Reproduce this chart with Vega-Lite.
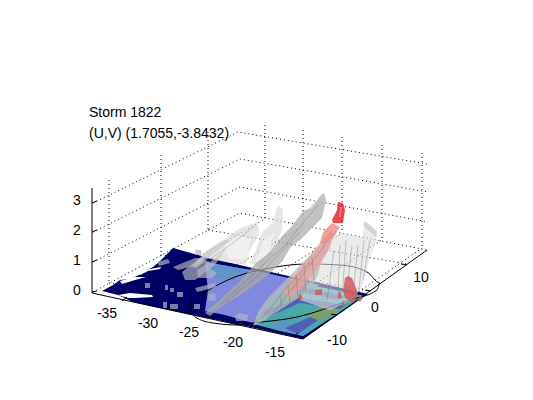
{"$schema":"https://vega.github.io/schema/vega-lite/v6.json","width":533,"height":400,"padding":0,"autosize":{"type":"none"},"background":"white","view":{"stroke":null},
"resolve":{"scale":{"fill":"independent","opacity":"independent"}},
"datasets":{
"dotted":[
{"p":"z0a","i":0,"x":93,"y":292},{"p":"z0a","i":1,"x":240,"y":213},{"p":"z0a","i":2,"x":427,"y":250},
{"p":"z1a","i":0,"x":93,"y":262},{"p":"z1a","i":1,"x":240,"y":187},{"p":"z1a","i":2,"x":428,"y":222},
{"p":"z2a","i":0,"x":93,"y":232},{"p":"z2a","i":1,"x":240,"y":159},{"p":"z2a","i":2,"x":428,"y":192},
{"p":"z3a","i":0,"x":93,"y":203},{"p":"z3a","i":1,"x":238,"y":132},{"p":"z3a","i":2,"x":427,"y":164},
{"p":"v1","i":0,"x":109,"y":180},{"p":"v1","i":1,"x":109,"y":283},
{"p":"v2","i":0,"x":161,"y":155},{"p":"v2","i":1,"x":161,"y":255},
{"p":"v3","i":0,"x":208,"y":132},{"p":"v3","i":1,"x":208,"y":230},
{"p":"v4","i":0,"x":265,"y":125},{"p":"v4","i":1,"x":265,"y":219},
{"p":"v5","i":0,"x":303,"y":130},{"p":"v5","i":1,"x":303,"y":226},
{"p":"v6","i":0,"x":342,"y":137},{"p":"v6","i":1,"x":342,"y":233},
{"p":"v7","i":0,"x":382,"y":145},{"p":"v7","i":1,"x":382,"y":240},
{"p":"v8","i":0,"x":422,"y":153},{"p":"v8","i":1,"x":422,"y":248},
{"p":"f1","i":0,"x":123,"y":300},{"p":"f1","i":1,"x":265,"y":219},
{"p":"f2","i":0,"x":165,"y":308},{"p":"f2","i":1,"x":303,"y":226},
{"p":"f3","i":0,"x":207,"y":318},{"p":"f3","i":1,"x":342,"y":233},
{"p":"f4","i":0,"x":250,"y":327},{"p":"f4","i":1,"x":382,"y":240},
{"p":"f5","i":0,"x":293,"y":337},{"p":"f5","i":1,"x":422,"y":248},
{"p":"g1","i":0,"x":109,"y":283},{"p":"g1","i":1,"x":337,"y":315},
{"p":"g2","i":0,"x":161,"y":255},{"p":"g2","i":1,"x":370,"y":291},
{"p":"g3","i":0,"x":208,"y":230},{"p":"g3","i":1,"x":407,"y":264}
],
"surface":[
{"p":"n","k":"navy","i":0,"x":102,"y":291},{"p":"n","k":"navy","i":1,"x":113,"y":285},{"p":"n","k":"navy","i":2,"x":120,"y":280},{"p":"n","k":"navy","i":3,"x":130,"y":279},{"p":"n","k":"navy","i":4,"x":137,"y":276},{"p":"n","k":"navy","i":5,"x":147,"y":270},{"p":"n","k":"navy","i":6,"x":153,"y":267},{"p":"n","k":"navy","i":7,"x":160,"y":261},{"p":"n","k":"navy","i":8,"x":173,"y":248},{"p":"n","k":"navy","i":9,"x":205,"y":257},{"p":"n","k":"navy","i":10,"x":262,"y":270},{"p":"n","k":"navy","i":11,"x":368,"y":294},{"p":"n","k":"navy","i":12,"x":303,"y":339},{"p":"n","k":"navy","i":13,"x":255,"y":328},{"p":"n","k":"navy","i":14,"x":193,"y":315},{"p":"n","k":"navy","i":15,"x":133,"y":302},{"p":"n","k":"navy","i":16,"x":118,"y":295},
{"p":"w1","k":"white","i":0,"x":118,"y":295},{"p":"w1","k":"white","i":1,"x":130,"y":293},{"p":"w1","k":"white","i":2,"x":152,"y":295},{"p":"w1","k":"white","i":3,"x":153,"y":297},{"p":"w1","k":"white","i":4,"x":135,"y":298},{"p":"w1","k":"white","i":5,"x":128,"y":298},
{"p":"w2","k":"white","i":0,"x":137,"y":272},{"p":"w2","k":"white","i":1,"x":150,"y":269},{"p":"w2","k":"white","i":2,"x":161,"y":267},{"p":"w2","k":"white","i":3,"x":160,"y":269},{"p":"w2","k":"white","i":4,"x":148,"y":271},{"p":"w2","k":"white","i":5,"x":140,"y":275},
{"p":"w3","k":"white","i":0,"x":120,"y":281},{"p":"w3","k":"white","i":1,"x":135,"y":277},{"p":"w3","k":"white","i":2,"x":146,"y":277},{"p":"w3","k":"white","i":3,"x":135,"y":280},{"p":"w3","k":"white","i":4,"x":122,"y":284},
{"p":"b","k":"blue","i":0,"x":205,"y":262},{"p":"b","k":"blue","i":1,"x":262,"y":272},{"p":"b","k":"blue","i":2,"x":320,"y":285},{"p":"b","k":"blue","i":3,"x":300,"y":292},{"p":"b","k":"blue","i":4,"x":270,"y":310},{"p":"b","k":"blue","i":5,"x":253,"y":323},{"p":"b","k":"blue","i":6,"x":225,"y":315},{"p":"b","k":"blue","i":7,"x":205,"y":311},{"p":"b","k":"blue","i":8,"x":208,"y":290},
{"p":"tb","k":"tealblue","i":0,"x":205,"y":262},{"p":"tb","k":"tealblue","i":1,"x":250,"y":270},{"p":"tb","k":"tealblue","i":2,"x":232,"y":280},{"p":"tb","k":"tealblue","i":3,"x":207,"y":278},
{"p":"t","k":"teal","i":0,"x":253,"y":324},{"p":"t","k":"teal","i":1,"x":270,"y":305},{"p":"t","k":"teal","i":2,"x":290,"y":280},{"p":"t","k":"teal","i":3,"x":320,"y":287},{"p":"t","k":"teal","i":4,"x":365,"y":296},{"p":"t","k":"teal","i":5,"x":303,"y":336},{"p":"t","k":"teal","i":6,"x":280,"y":331},
{"p":"gs","k":"green","i":0,"x":305,"y":315},{"p":"gs","k":"green","i":1,"x":325,"y":305},{"p":"gs","k":"green","i":2,"x":340,"y":310},{"p":"gs","k":"green","i":3,"x":320,"y":322},
{"p":"s1","k":"stripe","i":0,"x":262,"y":312},{"p":"s1","k":"stripe","i":1,"x":300,"y":298},{"p":"s1","k":"stripe","i":2,"x":345,"y":305},{"p":"s1","k":"stripe","i":3,"x":340,"y":309},{"p":"s1","k":"stripe","i":4,"x":300,"y":303},{"p":"s1","k":"stripe","i":5,"x":268,"y":317},
{"p":"s2","k":"stripe","i":0,"x":295,"y":285},{"p":"s2","k":"stripe","i":1,"x":345,"y":296},{"p":"s2","k":"stripe","i":2,"x":340,"y":300},{"p":"s2","k":"stripe","i":3,"x":290,"y":290},
{"p":"s3","k":"tealblue","i":0,"x":303,"y":336},{"p":"s3","k":"tealblue","i":1,"x":312,"y":330},{"p":"s3","k":"tealblue","i":2,"x":282,"y":320},{"p":"s3","k":"tealblue","i":3,"x":270,"y":326},
{"p":"s4","k":"stripe","i":0,"x":298,"y":334},{"p":"s4","k":"stripe","i":1,"x":318,"y":320},{"p":"s4","k":"stripe","i":2,"x":310,"y":317},{"p":"s4","k":"stripe","i":3,"x":285,"y":328}
],
"plumes":[
{"p":"sh","k":"sheet","i":0,"x":325,"y":245},{"p":"sh","k":"sheet","i":1,"x":340,"y":232},{"p":"sh","k":"sheet","i":2,"x":362,"y":237},{"p":"sh","k":"sheet","i":3,"x":365,"y":222},{"p":"sh","k":"sheet","i":4,"x":377,"y":232},{"p":"sh","k":"sheet","i":5,"x":375,"y":245},{"p":"sh","k":"sheet","i":6,"x":370,"y":258},{"p":"sh","k":"sheet","i":7,"x":363,"y":285},{"p":"sh","k":"sheet","i":8,"x":352,"y":300},{"p":"sh","k":"sheet","i":9,"x":330,"y":310},{"p":"sh","k":"sheet","i":10,"x":300,"y":300},{"p":"sh","k":"sheet","i":11,"x":315,"y":270},
{"p":"sht","k":"mid","i":0,"x":365,"y":221},{"p":"sht","k":"mid","i":1,"x":377,"y":231},{"p":"sht","k":"mid","i":2,"x":376,"y":237},{"p":"sht","k":"mid","i":3,"x":363,"y":226},
{"p":"r1","k":"light","i":0,"x":192,"y":267},{"p":"r1","k":"light","i":1,"x":207,"y":250},{"p":"r1","k":"light","i":2,"x":223,"y":240},{"p":"r1","k":"light","i":3,"x":240,"y":228},{"p":"r1","k":"light","i":4,"x":252,"y":224},{"p":"r1","k":"light","i":5,"x":258,"y":222},{"p":"r1","k":"light","i":6,"x":259,"y":235},{"p":"r1","k":"light","i":7,"x":250,"y":250},{"p":"r1","k":"light","i":8,"x":246,"y":265},{"p":"r1","k":"light","i":9,"x":225,"y":262},{"p":"r1","k":"light","i":10,"x":205,"y":258},
{"p":"r1w","k":"bright","i":0,"x":225,"y":245},{"p":"r1w","k":"bright","i":1,"x":240,"y":235},{"p":"r1w","k":"bright","i":2,"x":250,"y":240},{"p":"r1w","k":"bright","i":3,"x":247,"y":260},{"p":"r1w","k":"bright","i":4,"x":228,"y":258},
{"p":"r1b","k":"mid","i":0,"x":192,"y":267},{"p":"r1b","k":"mid","i":1,"x":207,"y":251},{"p":"r1b","k":"mid","i":2,"x":225,"y":240},{"p":"r1b","k":"mid","i":3,"x":230,"y":241},{"p":"r1b","k":"mid","i":4,"x":212,"y":255},{"p":"r1b","k":"mid","i":5,"x":197,"y":268},
{"p":"r2","k":"light","i":0,"x":262,"y":232},{"p":"r2","k":"light","i":1,"x":272,"y":223},{"p":"r2","k":"light","i":2,"x":278,"y":205},{"p":"r2","k":"light","i":3,"x":283,"y":210},{"p":"r2","k":"light","i":4,"x":282,"y":230},{"p":"r2","k":"light","i":5,"x":270,"y":257},{"p":"r2","k":"light","i":6,"x":263,"y":268},{"p":"r2","k":"light","i":7,"x":250,"y":263},{"p":"r2","k":"light","i":8,"x":257,"y":247},
{"p":"r2w","k":"bright","i":0,"x":255,"y":262},{"p":"r2w","k":"bright","i":1,"x":264,"y":240},{"p":"r2w","k":"bright","i":2,"x":275,"y":232},{"p":"r2w","k":"bright","i":3,"x":268,"y":255},
{"p":"l0","k":"mid","i":0,"x":173,"y":267},{"p":"l0","k":"mid","i":1,"x":195,"y":258},{"p":"l0","k":"mid","i":2,"x":205,"y":258},{"p":"l0","k":"mid","i":3,"x":198,"y":265},{"p":"l0","k":"mid","i":4,"x":178,"y":270},
{"p":"l1","k":"mid","i":0,"x":182,"y":272},{"p":"l1","k":"mid","i":1,"x":200,"y":258},{"p":"l1","k":"mid","i":2,"x":210,"y":262},{"p":"l1","k":"mid","i":3,"x":225,"y":250},{"p":"l1","k":"mid","i":4,"x":215,"y":265},{"p":"l1","k":"mid","i":5,"x":195,"y":280},{"p":"l1","k":"mid","i":6,"x":185,"y":280},
{"p":"l2","k":"lump","i":0,"x":197,"y":270},{"p":"l2","k":"lump","i":1,"x":205,"y":265},{"p":"l2","k":"lump","i":2,"x":217,"y":273},{"p":"l2","k":"lump","i":3,"x":213,"y":278},{"p":"l2","k":"lump","i":4,"x":198,"y":278},
{"p":"q1","k":"lump","i":0,"x":157,"y":262},{"p":"q1","k":"lump","i":1,"x":168,"y":259},{"p":"q1","k":"lump","i":2,"x":170,"y":263},{"p":"q1","k":"lump","i":3,"x":159,"y":266},
{"p":"q2","k":"lump","i":0,"x":145,"y":283},{"p":"q2","k":"lump","i":1,"x":150,"y":283},{"p":"q2","k":"lump","i":2,"x":150,"y":288},{"p":"q2","k":"lump","i":3,"x":145,"y":288},
{"p":"q3","k":"lump","i":0,"x":165,"y":285},{"p":"q3","k":"lump","i":1,"x":168,"y":285},{"p":"q3","k":"lump","i":2,"x":168,"y":290},{"p":"q3","k":"lump","i":3,"x":165,"y":290},
{"p":"q4","k":"lump","i":0,"x":170,"y":288},{"p":"q4","k":"lump","i":1,"x":174,"y":288},{"p":"q4","k":"lump","i":2,"x":174,"y":292},{"p":"q4","k":"lump","i":3,"x":170,"y":292},
{"p":"q5","k":"lump","i":0,"x":177,"y":292},{"p":"q5","k":"lump","i":1,"x":183,"y":292},{"p":"q5","k":"lump","i":2,"x":183,"y":297},{"p":"q5","k":"lump","i":3,"x":177,"y":297},
{"p":"q6","k":"lump","i":0,"x":163,"y":302},{"p":"q6","k":"lump","i":1,"x":167,"y":302},{"p":"q6","k":"lump","i":2,"x":167,"y":308},{"p":"q6","k":"lump","i":3,"x":163,"y":308},
{"p":"q7","k":"lump","i":0,"x":170,"y":304},{"p":"q7","k":"lump","i":1,"x":178,"y":304},{"p":"q7","k":"lump","i":2,"x":178,"y":309},{"p":"q7","k":"lump","i":3,"x":170,"y":309},
{"p":"q8","k":"lump","i":0,"x":194,"y":304},{"p":"q8","k":"lump","i":1,"x":200,"y":304},{"p":"q8","k":"lump","i":2,"x":200,"y":309},{"p":"q8","k":"lump","i":3,"x":194,"y":309},
{"p":"q9","k":"lump","i":0,"x":208,"y":294},{"p":"q9","k":"lump","i":1,"x":215,"y":293},{"p":"q9","k":"lump","i":2,"x":216,"y":300},{"p":"q9","k":"lump","i":3,"x":209,"y":301},
{"p":"q10","k":"lump","i":0,"x":195,"y":288},{"p":"q10","k":"lump","i":1,"x":215,"y":283},{"p":"q10","k":"lump","i":2,"x":216,"y":287},{"p":"q10","k":"lump","i":3,"x":197,"y":292},
{"p":"q11","k":"lump","i":0,"x":235,"y":316},{"p":"q11","k":"lump","i":1,"x":240,"y":313},{"p":"q11","k":"lump","i":2,"x":248,"y":315},{"p":"q11","k":"lump","i":3,"x":247,"y":321},{"p":"q11","k":"lump","i":4,"x":236,"y":321},
{"p":"q12","k":"lump","i":0,"x":195,"y":250},{"p":"q12","k":"lump","i":1,"x":201,"y":250},{"p":"q12","k":"lump","i":2,"x":202,"y":255},{"p":"q12","k":"lump","i":3,"x":195,"y":255},
{"p":"r3","k":"dark","i":0,"x":205,"y":313},{"p":"r3","k":"dark","i":1,"x":222,"y":298},{"p":"r3","k":"dark","i":2,"x":240,"y":281},{"p":"r3","k":"dark","i":3,"x":255,"y":264},{"p":"r3","k":"dark","i":4,"x":270,"y":252},{"p":"r3","k":"dark","i":5,"x":282,"y":236},{"p":"r3","k":"dark","i":6,"x":292,"y":226},{"p":"r3","k":"dark","i":7,"x":303,"y":211},{"p":"r3","k":"dark","i":8,"x":312,"y":208},{"p":"r3","k":"dark","i":9,"x":320,"y":196},{"p":"r3","k":"dark","i":10,"x":324,"y":193},{"p":"r3","k":"dark","i":11,"x":326,"y":200},{"p":"r3","k":"dark","i":12,"x":322,"y":218},{"p":"r3","k":"dark","i":13,"x":310,"y":230},{"p":"r3","k":"dark","i":14,"x":300,"y":240},{"p":"r3","k":"dark","i":15,"x":290,"y":248},{"p":"r3","k":"dark","i":16,"x":282,"y":262},{"p":"r3","k":"dark","i":17,"x":268,"y":275},{"p":"r3","k":"dark","i":18,"x":252,"y":287},{"p":"r3","k":"dark","i":19,"x":236,"y":298},{"p":"r3","k":"dark","i":20,"x":222,"y":306},{"p":"r3","k":"dark","i":21,"x":210,"y":316},
{"p":"r3h","k":"mid","i":0,"x":295,"y":225},{"p":"r3h","k":"mid","i":1,"x":305,"y":212},{"p":"r3h","k":"mid","i":2,"x":320,"y":197},{"p":"r3h","k":"mid","i":3,"x":325,"y":195},{"p":"r3h","k":"mid","i":4,"x":325,"y":205},{"p":"r3h","k":"mid","i":5,"x":315,"y":225},{"p":"r3h","k":"mid","i":6,"x":300,"y":238},
{"p":"r4","k":"front","i":0,"x":253,"y":326},{"p":"r4","k":"front","i":1,"x":258,"y":312},{"p":"r4","k":"front","i":2,"x":268,"y":298},{"p":"r4","k":"front","i":3,"x":283,"y":283},{"p":"r4","k":"front","i":4,"x":300,"y":265},{"p":"r4","k":"front","i":5,"x":310,"y":255},{"p":"r4","k":"front","i":6,"x":322,"y":240},{"p":"r4","k":"front","i":7,"x":330,"y":232},{"p":"r4","k":"front","i":8,"x":336,"y":233},{"p":"r4","k":"front","i":9,"x":330,"y":245},{"p":"r4","k":"front","i":10,"x":322,"y":258},{"p":"r4","k":"front","i":11,"x":318,"y":275},{"p":"r4","k":"front","i":12,"x":308,"y":292},{"p":"r4","k":"front","i":13,"x":295,"y":300},{"p":"r4","k":"front","i":14,"x":280,"y":310},{"p":"r4","k":"front","i":15,"x":265,"y":320},
{"p":"r4p","k":"pinkfog","i":0,"x":283,"y":290},{"p":"r4p","k":"pinkfog","i":1,"x":305,"y":262},{"p":"r4p","k":"pinkfog","i":2,"x":322,"y":243},{"p":"r4p","k":"pinkfog","i":3,"x":332,"y":232},{"p":"r4p","k":"pinkfog","i":4,"x":330,"y":248},{"p":"r4p","k":"pinkfog","i":5,"x":318,"y":268},{"p":"r4p","k":"pinkfog","i":6,"x":300,"y":290},{"p":"r4p","k":"pinkfog","i":7,"x":288,"y":300},
{"p":"rp","k":"pink","i":0,"x":332,"y":223},{"p":"rp","k":"pink","i":1,"x":340,"y":227},{"p":"rp","k":"pink","i":2,"x":335,"y":235},{"p":"rp","k":"pink","i":3,"x":325,"y":245},{"p":"rp","k":"pink","i":4,"x":320,"y":243},{"p":"rp","k":"pink","i":5,"x":323,"y":232},
{"p":"rr","k":"red","i":0,"x":338,"y":202},{"p":"rr","k":"red","i":1,"x":343,"y":203},{"p":"rr","k":"red","i":2,"x":345,"y":210},{"p":"rr","k":"red","i":3,"x":343,"y":223},{"p":"rr","k":"red","i":4,"x":333,"y":223},{"p":"rr","k":"red","i":5,"x":332,"y":220},{"p":"rr","k":"red","i":6,"x":337,"y":210},
{"p":"rh","k":"pink","i":0,"x":340,"y":207},{"p":"rh","k":"pink","i":1,"x":342,"y":207},{"p":"rh","k":"pink","i":2,"x":341,"y":217},{"p":"rh","k":"pink","i":3,"x":339,"y":217},
{"p":"d1","k":"dim","i":0,"x":345,"y":278},{"p":"d1","k":"dim","i":1,"x":348,"y":276},{"p":"d1","k":"dim","i":2,"x":352,"y":278},{"p":"d1","k":"dim","i":3,"x":358,"y":293},{"p":"d1","k":"dim","i":4,"x":353,"y":303},{"p":"d1","k":"dim","i":5,"x":345,"y":298},{"p":"d1","k":"dim","i":6,"x":343,"y":290},
{"p":"d2","k":"dim","i":0,"x":315,"y":290},{"p":"d2","k":"dim","i":1,"x":322,"y":289},{"p":"d2","k":"dim","i":2,"x":322,"y":295},{"p":"d2","k":"dim","i":3,"x":315,"y":295},
{"p":"d3","k":"dim","i":0,"x":338,"y":298},{"p":"d3","k":"dim","i":1,"x":338,"y":293},{"p":"d3","k":"dim","i":2,"x":340,"y":291},{"p":"d3","k":"dim","i":3,"x":342,"y":298},
{"p":"d4","k":"dim","i":0,"x":341,"y":306},{"p":"d4","k":"dim","i":1,"x":343,"y":300},{"p":"d4","k":"dim","i":2,"x":345,"y":306},
{"p":"d5","k":"dim","i":0,"x":298,"y":299},{"p":"d5","k":"dim","i":1,"x":300,"y":293},{"p":"d5","k":"dim","i":2,"x":303,"y":299},
{"p":"d6","k":"dim","i":0,"x":358,"y":300},{"p":"d6","k":"dim","i":1,"x":360,"y":295},{"p":"d6","k":"dim","i":2,"x":363,"y":298},{"p":"d6","k":"dim","i":3,"x":360,"y":302}
],
"solid":[
{"p":"ring","i":0,"x":190,"y":307},{"p":"ring","i":1,"x":195,"y":317},{"p":"ring","i":2,"x":213,"y":323},{"p":"ring","i":3,"x":237,"y":325},{"p":"ring","i":4,"x":253,"y":323},{"p":"ring","i":5,"x":297,"y":317},{"p":"ring","i":6,"x":350,"y":300},{"p":"ring","i":7,"x":377,"y":290},{"p":"ring","i":8,"x":380,"y":283},{"p":"ring","i":9,"x":367,"y":272},{"p":"ring","i":10,"x":340,"y":265},{"p":"ring","i":11,"x":307,"y":264},{"p":"ring","i":12,"x":270,"y":268},{"p":"ring","i":13,"x":235,"y":277},{"p":"ring","i":14,"x":205,"y":292},{"p":"ring","i":15,"x":192,"y":300},{"p":"ring","i":16,"x":190,"y":307}
],
"axes":[
{"p":"az","i":0,"x":92,"y":188},{"p":"az","i":1,"x":92,"y":293},
{"p":"ax","i":0,"x":92,"y":293},{"p":"ax","i":1,"x":303,"y":339},
{"p":"ay","i":0,"x":303,"y":339},{"p":"ay","i":1,"x":427,"y":250},
{"p":"tz0","i":0,"x":92,"y":292},{"p":"tz0","i":1,"x":97,"y":291},
{"p":"tz1","i":0,"x":92,"y":262},{"p":"tz1","i":1,"x":97,"y":260},
{"p":"tz2","i":0,"x":92,"y":232},{"p":"tz2","i":1,"x":97,"y":230},
{"p":"tz3","i":0,"x":92,"y":203},{"p":"tz3","i":1,"x":97,"y":201},
{"p":"tx1","i":0,"x":122,"y":301},{"p":"tx1","i":1,"x":127,"y":297},
{"p":"tx2","i":0,"x":165,"y":309},{"p":"tx2","i":1,"x":170,"y":305},
{"p":"tx3","i":0,"x":207,"y":318},{"p":"tx3","i":1,"x":212,"y":314},
{"p":"tx4","i":0,"x":250,"y":328},{"p":"tx4","i":1,"x":255,"y":324},
{"p":"tx5","i":0,"x":293,"y":337},{"p":"tx5","i":1,"x":298,"y":333},
{"p":"ty1","i":0,"x":337,"y":315},{"p":"ty1","i":1,"x":331,"y":314},
{"p":"ty2","i":0,"x":371,"y":291},{"p":"ty2","i":1,"x":365,"y":290},
{"p":"ty3","i":0,"x":407,"y":265},{"p":"ty3","i":1,"x":401,"y":264}
],
"streaks":[
{"p":"a1","i":0,"x":212,"y":312},{"p":"a1","i":1,"x":250,"y":277},{"p":"a1","i":2,"x":285,"y":245},{"p":"a1","i":3,"x":318,"y":205},
{"p":"a2","i":0,"x":225,"y":303},{"p":"a2","i":1,"x":262,"y":272},{"p":"a2","i":2,"x":300,"y":232},
{"p":"a3","i":0,"x":198,"y":268},{"p":"a3","i":1,"x":230,"y":245},{"p":"a3","i":2,"x":255,"y":226},
{"p":"a4","i":0,"x":262,"y":318},{"p":"a4","i":1,"x":285,"y":290},{"p":"a4","i":2,"x":310,"y":262},
{"p":"a5","i":0,"x":270,"y":318},{"p":"a5","i":1,"x":295,"y":285},{"p":"a5","i":2,"x":325,"y":245},
{"p":"c1","i":0,"x":280,"y":295},{"p":"c1","i":1,"x":282,"y":310},
{"p":"c2","i":0,"x":288,"y":285},{"p":"c2","i":1,"x":290,"y":305},
{"p":"c3","i":0,"x":296,"y":275},{"p":"c3","i":1,"x":298,"y":298},
{"p":"c4","i":0,"x":304,"y":265},{"p":"c4","i":1,"x":306,"y":293},
{"p":"c5","i":0,"x":312,"y":257},{"p":"c5","i":1,"x":314,"y":280},
{"p":"c6","i":0,"x":340,"y":245},{"p":"c6","i":1,"x":338,"y":290},
{"p":"c7","i":0,"x":346,"y":240},{"p":"c7","i":1,"x":343,"y":285},
{"p":"c8","i":0,"x":352,"y":245},{"p":"c8","i":1,"x":348,"y":280},
{"p":"c9","i":0,"x":358,"y":245},{"p":"c9","i":1,"x":354,"y":285},
{"p":"c10","i":0,"x":364,"y":240},{"p":"c10","i":1,"x":359,"y":290},
{"p":"c11","i":0,"x":370,"y":240},{"p":"c11","i":1,"x":363,"y":280},
{"p":"c12","i":0,"x":334,"y":250},{"p":"c12","i":1,"x":327,"y":300}
],
"labels":[
{"t":"-35","x":107,"y":314},{"t":"-30","x":148,"y":324},{"t":"-25","x":189,"y":333},{"t":"-20","x":233,"y":343},{"t":"-15","x":275,"y":353},
{"t":"-10","x":337,"y":341},{"t":"0","x":375,"y":308},{"t":"10","x":421,"y":278},
{"t":"3","x":77,"y":201},{"t":"2","x":77,"y":231},{"t":"1","x":77,"y":261},{"t":"0","x":77,"y":291}
],
"titles":[{"t":"Storm 1822","x":89,"y":113},{"t":"(U,V) (1.7055,-3.8432)","x":89,"y":134}]
},
"encoding":{
"x":{"field":"x","type":"quantitative","scale":{"domain":[0,533],"range":[0,533],"nice":false,"zero":false},"axis":null},
"y":{"field":"y","type":"quantitative","scale":{"domain":[400,0],"range":[400,0],"nice":false,"zero":false},"axis":null}
},
"layer":[
{"data":{"name":"dotted"},"mark":{"type":"line","stroke":"#000000","strokeWidth":1,"strokeDash":[1,3]},"encoding":{"detail":{"field":"p"},"order":{"field":"i"}}},
{"data":{"name":"surface"},"mark":{"type":"line","strokeWidth":0,"interpolate":"linear-closed"},"encoding":{"detail":{"field":"p"},"order":{"field":"i"},
"fill":{"field":"k","type":"nominal","legend":null,"scale":{"domain":["navy","white","blue","tealblue","teal","green","stripe"],"range":["#000066","#ffffff","#7f8ade","#5f94c8","#4aa8aa","#7aa070","#4d62b4"]}}}},
{"data":{"name":"solid"},"mark":{"type":"line","stroke":"#000000","strokeWidth":1,"interpolate":"monotone"},"encoding":{"detail":{"field":"p"},"order":{"field":"i"}}},
{"data":{"name":"axes"},"mark":{"type":"line","stroke":"#000000","strokeWidth":1},"encoding":{"detail":{"field":"p"},"order":{"field":"i"}}},
{"data":{"name":"plumes"},"mark":{"type":"line","strokeWidth":0,"interpolate":"linear-closed"},"encoding":{"detail":{"field":"p"},"order":{"field":"i"},
"fill":{"field":"k","type":"nominal","legend":null,"scale":{"domain":["sheet","mid","light","bright","lump","dark","front","pinkfog","pink","red","dim"],"range":["#dedede","#c4c4c4","#d8d8d8","#f4f4f4","#b0b0c8","#a8a8a8","#b8bcbc","#e8a0a0","#f08a8a","#ea1c28","#cc5a62"]}},
"opacity":{"field":"k","type":"nominal","legend":null,"scale":{"domain":["sheet","mid","light","bright","lump","dark","front","pinkfog","pink","red","dim"],"range":[0.6,0.85,0.95,0.95,0.75,0.8,0.65,0.45,0.95,1,0.95]}}}},
{"data":{"name":"streaks"},"mark":{"type":"line","stroke":"#606060","strokeWidth":0.6,"opacity":0.55},"encoding":{"detail":{"field":"p"},"order":{"field":"i"}}},
{"data":{"name":"labels"},"mark":{"type":"text","font":"Liberation Sans","fontSize":14,"align":"center","baseline":"middle","color":"#000000"},"encoding":{"text":{"field":"t"}}},
{"data":{"name":"titles"},"mark":{"type":"text","font":"Liberation Sans","fontSize":14,"align":"left","baseline":"middle","color":"#000000"},"encoding":{"text":{"field":"t"}}}
]
}
